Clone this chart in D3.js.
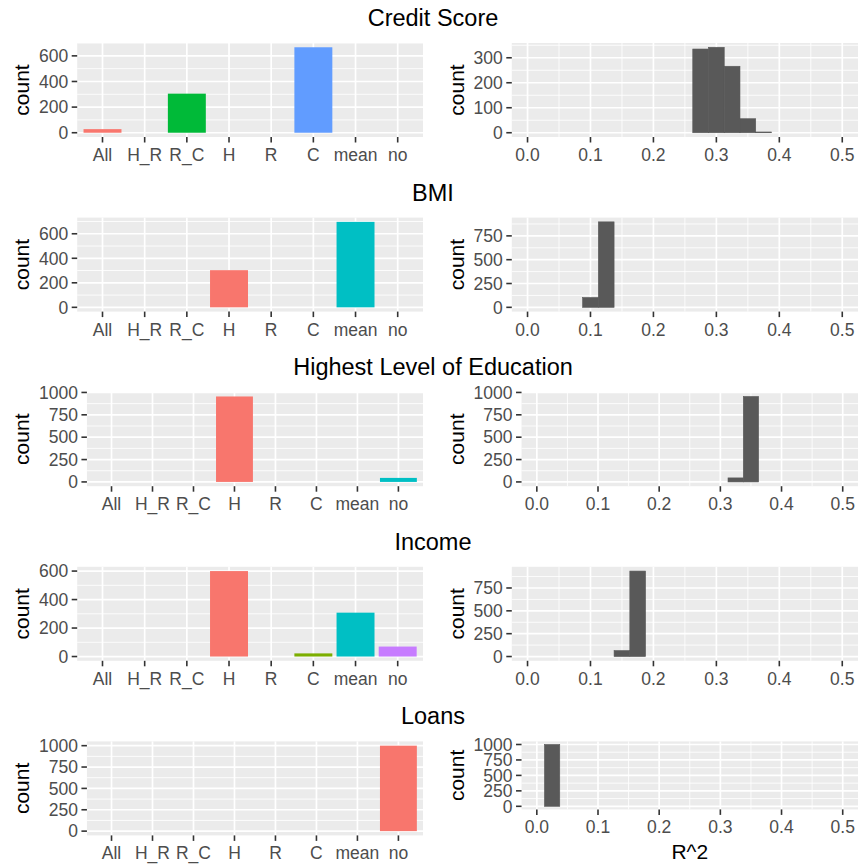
<!DOCTYPE html>
<html>
<head>
<meta charset="utf-8">
<script src="https://cdn.jsdelivr.net/npm/d3@7"></script>
<style>
  body { margin: 0; background: #fff; }
  svg { display: block; font-family: "Liberation Sans", Arial, sans-serif; }
</style>
</head>
<body>
<svg id="chart"></svg>
<script>
// ---- data ----
const categories = ["All", "H_R", "R_C", "H", "R", "C", "mean", "no"];
const rowTitles = ["Credit Score", "BMI", "Highest Level of Education", "Income", "Loans"];

// how often each model came out best (left column)
const creditBest = [28, 0, 305, 0, 0, 667, 0, 0];
const bmiBest = [0, 0, 0, 303, 0, 0, 697, 0];
const educationBest = [0, 0, 0, 955, 0, 0, 0, 45];
const incomeBest = [0, 0, 0, 600, 0, 22, 308, 70];
const loansBest = [0, 0, 0, 0, 0, 0, 0, 1000];

const creditBestTicks = [0, 200, 400, 600];
const bmiBestTicks = [0, 200, 400, 600];
const educationBestTicks = [0, 250, 500, 750, 1000];
const incomeBestTicks = [0, 200, 400, 600];
const loansBestTicks = [0, 250, 500, 750, 1000];

// R^2 histograms (right column), bin width 0.025
const binWidth = 0.025;
const creditR2Mids = [0.275, 0.3, 0.325, 0.35, 0.375];
const creditR2Counts = [335, 342, 266, 56, 3];
const bmiR2Mids = [0.1, 0.125];
const bmiR2Counts = [103, 897];
const educationR2Mids = [0.325, 0.35];
const educationR2Counts = [45, 955];
const incomeR2Mids = [0.15, 0.175];
const incomeR2Counts = [65, 935];
const loansR2Mids = [0.025];
const loansR2Counts = [1000];

const creditR2Ticks = [0, 100, 200, 300];
const bmiR2Ticks = [0, 250, 500, 750];
const educationR2Ticks = [0, 250, 500, 750, 1000];
const incomeR2Ticks = [0, 250, 500, 750];
const loansR2Ticks = [0, 250, 500, 750, 1000];

const r2Ticks = [0, 0.1, 0.2, 0.3, 0.4, 0.5];

// ggplot default hue palettes
const huePalettes = {
    1: ["#F8766D"],
    2: ["#F8766D", "#00BFC4"],
    3: ["#F8766D", "#00BA38", "#619CFF"],
    4: ["#F8766D", "#7CAE00", "#00BFC4", "#C77CFF"]
};

const rows = [
    { best: creditBest, bestTicks: creditBestTicks, mids: creditR2Mids, counts: creditR2Counts, r2YTicks: creditR2Ticks },
    { best: bmiBest, bestTicks: bmiBestTicks, mids: bmiR2Mids, counts: bmiR2Counts, r2YTicks: bmiR2Ticks },
    { best: educationBest, bestTicks: educationBestTicks, mids: educationR2Mids, counts: educationR2Counts, r2YTicks: educationR2Ticks },
    { best: incomeBest, bestTicks: incomeBestTicks, mids: incomeR2Mids, counts: incomeR2Counts, r2YTicks: incomeR2Ticks },
    { best: loansBest, bestTicks: loansBestTicks, mids: loansR2Mids, counts: loansR2Counts, r2YTicks: loansR2Ticks }
];

// ---- layout ----
const W = 860, H = 865;
const rowStep = 174.6;
const tickFont = 17.5, axisTitleFont = 21, titleFont = 23.5;
const tickColor = "#333333", labelColor = "#4D4D4D";

const svg = d3.select("#chart").attr("width", W).attr("height", H);

const ctx = document.createElement("canvas").getContext("2d");
ctx.font = `${tickFont}px "Liberation Sans", Arial`;
const textWidth = s => ctx.measureText(s).width;

function minorBreaks(ticks, domain) {
    const step = ticks[1] - ticks[0];
    const out = [];
    for (let v = ticks[0] - step / 2; v <= ticks[ticks.length - 1] + step / 2 + 1e-9; v += step) {
        if (v > domain[0] && v < domain[1]) out.push(v);
    }
    return out;
}

function drawYAxis(g, y, ticks, left, colX, top, bottom) {
    g.selectAll(".ytick")
        .data(ticks)
        .enter()
        .append("line")
        .attr("x1", left - 5.5).attr("x2", left)
        .attr("y1", d => y(d)).attr("y2", d => y(d))
        .attr("stroke", tickColor).attr("stroke-width", 1.6);
    g.selectAll(".ylab")
        .data(ticks)
        .enter()
        .append("text")
        .attr("x", left - 9)
        .attr("y", d => y(d))
        .attr("dy", "0.36em")
        .attr("text-anchor", "end")
        .attr("font-size", tickFont)
        .attr("fill", labelColor)
        .text(d => d);
    g.append("text")
        .attr("transform", `translate(${colX + 21.5},${(top + bottom) / 2}) rotate(-90)`)
        .attr("dy", "0.36em")
        .attr("text-anchor", "middle")
        .attr("font-size", axisTitleFont)
        .attr("fill", "#000")
        .text("count");
}

function drawGridY(g, y, ticks, left, right) {
    const dom = y.domain();
    g.selectAll(".yminor")
        .data(minorBreaks(ticks, dom))
        .enter()
        .append("line")
        .attr("x1", left).attr("x2", right)
        .attr("y1", d => y(d)).attr("y2", d => y(d))
        .attr("stroke", "#fff").attr("stroke-width", 0.85);
    g.selectAll(".ymajor")
        .data(ticks)
        .enter()
        .append("line")
        .attr("x1", left).attr("x2", right)
        .attr("y1", d => y(d)).attr("y2", d => y(d))
        .attr("stroke", "#fff").attr("stroke-width", 1.7);
}

function drawBestPanel(row, rowY) {
    const colX = 0;
    const labelW = d3.max(row.bestTicks, t => textWidth(String(t)));
    const left = colX + 38.5 + labelW + 9.5;
    const right = 423;
    const top = rowY + 43, bottom = rowY + 137;
    const g = svg.append("g");

    const maxCount = d3.max(row.best);
    const y = d3.scaleLinear()
        .domain([-0.05 * maxCount, 1.05 * maxCount])
        .range([bottom, top]);
    const x = d3.scalePoint()
        .domain(categories)
        .range([left, right])
        .padding(0.6);

    g.append("rect")
        .attr("x", left).attr("y", top)
        .attr("width", right - left).attr("height", bottom - top)
        .attr("fill", "#EBEBEB");
    drawGridY(g, y, row.bestTicks, left, right);
    g.selectAll(".xmajor")
        .data(categories)
        .enter()
        .append("line")
        .attr("x1", d => x(d)).attr("x2", d => x(d))
        .attr("y1", top).attr("y2", bottom)
        .attr("stroke", "#fff").attr("stroke-width", 1.7);

    const present = categories.filter((c, i) => row.best[i] > 0);
    const color = d3.scaleOrdinal()
        .domain(present)
        .range(huePalettes[present.length]);

    const bars = categories.map((c, i) => ({ cat: c, count: row.best[i] }))
        .filter(d => d.count > 0);
    const bw = x.step() * 0.9;
    g.selectAll(".bar")
        .data(bars)
        .enter()
        .append("rect")
        .attr("x", d => x(d.cat) - bw / 2)
        .attr("y", d => y(d.count))
        .attr("width", bw)
        .attr("height", d => y(0) - y(d.count))
        .attr("fill", d => color(d.cat));

    drawYAxis(g, y, row.bestTicks, left, colX, top, bottom);

    g.selectAll(".xtick")
        .data(categories)
        .enter()
        .append("line")
        .attr("x1", d => x(d)).attr("x2", d => x(d))
        .attr("y1", bottom).attr("y2", bottom + 5.5)
        .attr("stroke", tickColor).attr("stroke-width", 1.6);
    g.selectAll(".xlab")
        .data(categories)
        .enter()
        .append("text")
        .attr("x", d => x(d))
        .attr("y", bottom + 24)
        .attr("text-anchor", "middle")
        .attr("font-size", tickFont)
        .attr("fill", labelColor)
        .text(d => d);
}

function drawR2Panel(row, rowY, isLast) {
    const colX = 434.6;
    const labelW = d3.max(row.r2YTicks, t => textWidth(String(t)));
    const left = colX + 38.5 + labelW + 9.5;
    const right = 858;
    const top = rowY + 43, bottom = rowY + 137 - (isLast ? 26 : 0);
    const g = svg.append("g");

    const maxCount = d3.max(row.counts);
    const y = d3.scaleLinear()
        .domain([-0.05 * maxCount, 1.05 * maxCount])
        .range([bottom, top]);
    const x = d3.scaleLinear()
        .domain([-0.025, 0.525])
        .range([left, right]);

    g.append("rect")
        .attr("x", left).attr("y", top)
        .attr("width", right - left).attr("height", bottom - top)
        .attr("fill", "#EBEBEB");
    drawGridY(g, y, row.r2YTicks, left, right);
    g.selectAll(".xminor")
        .data(minorBreaks(r2Ticks, x.domain()))
        .enter()
        .append("line")
        .attr("x1", d => x(d)).attr("x2", d => x(d))
        .attr("y1", top).attr("y2", bottom)
        .attr("stroke", "#fff").attr("stroke-width", 0.85);
    g.selectAll(".xmajor")
        .data(r2Ticks)
        .enter()
        .append("line")
        .attr("x1", d => x(d)).attr("x2", d => x(d))
        .attr("y1", top).attr("y2", bottom)
        .attr("stroke", "#fff").attr("stroke-width", 1.7);

    const bins = row.mids.map((m, i) => ({ mid: m, count: row.counts[i] }));
    g.selectAll(".bin")
        .data(bins)
        .enter()
        .append("rect")
        .attr("x", d => x(d.mid - binWidth / 2))
        .attr("y", d => y(d.count))
        .attr("width", d => x(d.mid + binWidth / 2) - x(d.mid - binWidth / 2))
        .attr("height", d => y(0) - y(d.count))
        .attr("fill", "#595959")
        .attr("stroke", "#595959")
        .attr("stroke-width", 0.6);

    drawYAxis(g, y, row.r2YTicks, left, colX, top, bottom);

    g.selectAll(".xtick")
        .data(r2Ticks)
        .enter()
        .append("line")
        .attr("x1", d => x(d)).attr("x2", d => x(d))
        .attr("y1", bottom).attr("y2", bottom + 5.5)
        .attr("stroke", tickColor).attr("stroke-width", 1.6);
    g.selectAll(".xlab")
        .data(r2Ticks)
        .enter()
        .append("text")
        .attr("x", d => x(d))
        .attr("y", bottom + 24)
        .attr("text-anchor", "middle")
        .attr("font-size", tickFont)
        .attr("fill", labelColor)
        .text(d => d3.format(".1f")(d));

    if (isLast) {
        g.append("text")
            .attr("x", (left + right) / 2)
            .attr("y", bottom + 50)
            .attr("text-anchor", "middle")
            .attr("font-size", axisTitleFont)
            .attr("fill", "#000")
            .text("R^2");
    }
}

rows.forEach((row, i) => {
    const rowY = i * rowStep;
    svg.append("text")
        .attr("x", 433)
        .attr("y", rowY + 26)
        .attr("text-anchor", "middle")
        .attr("font-size", titleFont)
        .attr("fill", "#000")
        .text(rowTitles[i]);
    drawBestPanel(row, rowY);
    drawR2Panel(row, rowY, i === rows.length - 1);
});
</script>
</body>
</html>
